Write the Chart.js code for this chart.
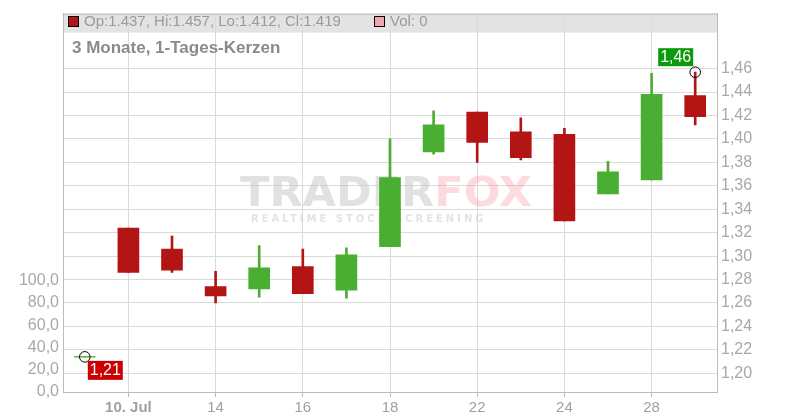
<!DOCTYPE html>
<html>
<head>
<meta charset="utf-8">
<script src="https://cdn.jsdelivr.net/npm/chart.js@4"></script>
<style>
  html, body { margin: 0; padding: 0; background: #fff; }
  #wrap { width: 800px; height: 420px; }
</style>
</head>
<body>
<div id="wrap"><canvas id="kerzen"></canvas></div>
<script>
// Tageskerzen, 3 Monate
const dayLabels = ['', '10. Jul', '', '14', '', '16', '', '18', '', '22', '', '24', '', '28', ''];
const openVals  = [1.214, 1.324, 1.306, 1.274, 1.272, 1.291, 1.271, 1.308, 1.389, 1.423, 1.406, 1.404, 1.353, 1.365, 1.437];
const highVals  = [1.214, 1.324, 1.317, 1.287, 1.309, 1.306, 1.307, 1.400, 1.424, 1.423, 1.418, 1.409, 1.381, 1.456, 1.457];
const lowVals   = [1.214, 1.286, 1.286, 1.260, 1.265, 1.268, 1.264, 1.308, 1.387, 1.380, 1.382, 1.330, 1.353, 1.365, 1.412];
const closeVals = [1.214, 1.286, 1.288, 1.266, 1.290, 1.268, 1.301, 1.367, 1.412, 1.397, 1.384, 1.330, 1.372, 1.438, 1.419];
const volumeVals = [0, 0, 0, 0, 0, 0, 0, 0, 0, 0, 0, 0, 0, 0, 0];

const priceTicks = [1.20, 1.22, 1.24, 1.26, 1.28, 1.30, 1.32, 1.34, 1.36, 1.38, 1.40, 1.42, 1.44, 1.46];
const volumeTicks = [0, 20, 40, 60, 80, 100];

const UP = '#4aae32';
const DOWN = '#b31515';
const GRID = '#dadada';
const AXIS = '#bbbbbb';
const FONT = '"Liberation Sans", Arial, sans-serif';

const isUp = (i) => closeVals[i] >= openVals[i];
const candleColors = openVals.map((o, i) => (isUp(i) ? UP : DOWN));

// min / max markers
let minIdx = 0, maxIdx = 0;
lowVals.forEach((v, i) => { if (v < lowVals[minIdx]) minIdx = i; });
highVals.forEach((v, i) => { if (v > highVals[maxIdx]) maxIdx = i; });
const markerData = dayLabels.map((l, i) => (i === minIdx ? lowVals[i] : i === maxIdx ? highVals[i] : null));

// flat candles (open == close) drawn as a short line
const dojiData = openVals.map((o, i) => (o === closeVals[i] ? o : null));

const fmt = (v, d) => v.toFixed(d).replace('.', ',');

// header band, legend line, title and watermark
const decorPlugin = {
  id: 'decor',
  beforeDraw(chart) {
    const { ctx, chartArea: a } = chart;
    ctx.save();
    ctx.fillStyle = '#e3e3e3';
    ctx.fillRect(a.left, a.top, a.right - a.left, 19);
    ctx.restore();
  },
  beforeDatasetsDraw(chart) {
    const { ctx } = chart;
    ctx.save();
    // watermark
    ctx.textBaseline = 'alphabetic';
    ctx.font = 'bold 40px "DejaVu Sans", sans-serif';
    const w1 = ctx.measureText('TRADER').width;
    const w2 = ctx.measureText('FOX').width;
    const sx = 292 / (w1 + w2);
    ctx.translate(240, 206);
    ctx.scale(sx, 1);
    ctx.fillStyle = 'rgba(195,195,195,0.5)';
    ctx.fillText('TRADER', 0, 0);
    ctx.fillStyle = 'rgba(245,150,160,0.35)';
    ctx.fillText('FOX', w1, 0);
    ctx.restore();

    ctx.save();
    ctx.font = 'bold 10px "DejaVu Sans", sans-serif';
    ctx.letterSpacing = '3px';
    ctx.fillStyle = 'rgba(200,200,200,0.5)';
    ctx.textBaseline = 'middle';
    ctx.fillText('REALTIME STOCK SCREENING', 251, 219);
    ctx.restore();
  },
  afterDraw(chart) {
    const { ctx, chartArea: a } = chart;
    ctx.save();
    // top border
    ctx.strokeStyle = AXIS;
    ctx.lineWidth = 1;
    ctx.beginPath();
    ctx.moveTo(a.left, a.top + 0.5);
    ctx.lineTo(a.right, a.top + 0.5);
    ctx.stroke();

    // legend line
    const last = openVals.length - 1;
    ctx.fillStyle = DOWN;
    ctx.fillRect(69, 17, 9, 9);
    ctx.strokeStyle = '#000';
    ctx.strokeRect(68.5, 16.5, 10, 10);
    ctx.fillStyle = '#f0a8b0';
    ctx.fillRect(375, 17, 9, 9);
    ctx.strokeRect(374.5, 16.5, 10, 10);
    ctx.font = '15px ' + FONT;
    ctx.fillStyle = '#9a9a9a';
    ctx.textBaseline = 'middle';
    ctx.fillText('Op:' + openVals[last].toFixed(3) + ', Hi:' + highVals[last].toFixed(3) +
      ', Lo:' + lowVals[last].toFixed(3) + ', Cl:' + closeVals[last].toFixed(3), 84, 22);
    ctx.fillText('Vol: ' + volumeVals[last], 390, 22);

    // title
    ctx.font = 'bold 17px ' + FONT;
    ctx.fillStyle = '#8a8a8a';
    ctx.fillText('3 Monate, 1-Tages-Kerzen', 72, 48);

    // min / max value boxes
    const x = chart.scales.x, y = chart.scales.y;
    ctx.font = '16px ' + FONT;
    ctx.textAlign = 'center';

    const mx = x.getPixelForValue(maxIdx), my = y.getPixelForValue(highVals[maxIdx]);
    ctx.fillStyle = '#0a9a0a';
    ctx.fillRect(mx - 37, my - 24, 35, 18);
    ctx.fillStyle = '#fff';
    ctx.fillText(fmt(highVals[maxIdx], 2), mx - 19.5, my - 14.5);

    const nx = x.getPixelForValue(minIdx), ny = y.getPixelForValue(lowVals[minIdx]);
    ctx.fillStyle = '#cc0000';
    ctx.fillRect(nx + 3, ny + 4, 35, 19);
    ctx.fillStyle = '#fff';
    ctx.fillText(fmt(lowVals[minIdx], 2), nx + 20.5, ny + 14);
    ctx.restore();
  }
};

new Chart(document.getElementById('kerzen').getContext('2d'), {
  data: {
    labels: dayLabels,
    datasets: [
      {
        type: 'line',
        label: 'Marker',
        data: markerData,
        showLine: false,
        pointStyle: 'circle',
        pointRadius: 5.3,
        pointBorderColor: '#000',
        pointBorderWidth: 1,
        pointBackgroundColor: 'rgba(0,0,0,0)',
        yAxisID: 'y',
        order: 0
      },
      {
        type: 'line',
        label: 'Doji',
        data: dojiData,
        showLine: false,
        pointStyle: 'line',
        pointRadius: 10.5,
        pointBorderColor: UP,
        pointBorderWidth: 1,
        yAxisID: 'y',
        order: 1
      },
      {
        type: 'bar',
        label: 'Body',
        data: openVals.map((o, i) => [o, closeVals[i]]),
        backgroundColor: candleColors,
        barThickness: 21,
        grouped: false,
        yAxisID: 'y',
        order: 2
      },
      {
        type: 'bar',
        label: 'Wick',
        data: lowVals.map((l, i) => [l, highVals[i]]),
        backgroundColor: candleColors,
        barThickness: 2,
        grouped: false,
        yAxisID: 'y',
        order: 3
      }
    ]
  },
  options: {
    responsive: true,
    maintainAspectRatio: false,
    animation: false,
    layout: { padding: { top: 11, left: 0, right: 0, bottom: 0 } },
    plugins: {
      legend: { display: false },
      tooltip: { enabled: false }
    },
    scales: {
      x: {
        type: 'category',
        offset: true,
        afterFit: (s) => { s.height = 28; },
        grid: {
          offset: false,
          color: (c) => (dayLabels[c.index] ? GRID : 'rgba(0,0,0,0)'),
          tickColor: (c) => (dayLabels[c.index] ? AXIS : 'rgba(0,0,0,0)'),
          tickLength: 5
        },
        border: { color: AXIS },
        ticks: {
          autoSkip: false,
          maxRotation: 0,
          padding: 2,
          color: '#a0a0a0',
          font: (c) => ({ family: FONT, size: 15, weight: c.tick && c.tick.label === '10. Jul' ? 'bold' : 'normal' })
        }
      },
      y: {
        type: 'linear',
        position: 'right',
        min: 1.184,
        max: 1.507,
        afterFit: (s) => { s.width = 83; },
        afterBuildTicks: (s) => { s.ticks = priceTicks.map((v) => ({ value: v })); },
        grid: { color: GRID, drawTicks: false },
        border: { color: AXIS },
        ticks: {
          padding: 4,
          color: '#a8a8a8',
          font: { family: FONT, size: 16 },
          callback: (v) => fmt(v, 2)
        }
      },
      yVol: {
        type: 'linear',
        position: 'left',
        display: true,
        min: 0,
        max: 340,
        afterFit: (s) => { s.width = 63; },
        afterBuildTicks: (s) => { s.ticks = volumeTicks.map((v) => ({ value: v })); },
        grid: { display: false, drawTicks: false },
        border: { color: AXIS },
        ticks: {
          padding: 4,
          color: '#a8a8a8',
          font: { family: FONT, size: 16 },
          callback: (v) => fmt(v, 1)
        }
      }
    }
  },
  plugins: [decorPlugin]
});
</script>
</body>
</html>
